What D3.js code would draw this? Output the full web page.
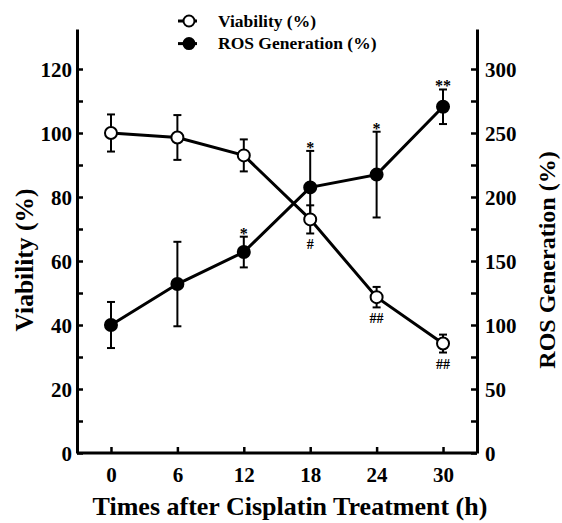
<!DOCTYPE html>
<html>
<head>
<meta charset="utf-8">
<script src="https://cdn.jsdelivr.net/npm/d3@7"></script>
<style>
  body { margin: 0; background: #fff; }
  svg { display: block; }
</style>
</head>
<body>
<svg id="chart" width="562" height="523"></svg>
<script>
// values
const times = [0, 6, 12, 18, 24, 30];
const viability = [100, 98.6, 93, 73, 48.7, 34.2];
const viabilityErr = [5.8, 7, 5, 4.4, 3.2, 2.8];
const ros = [100, 132, 157, 207.5, 217.5, 270.5];
const rosErr = [18, 33, 12, 28.5, 33.5, 13.5];
const rosMarks = ["", "", "*", "*", "*", "**"];
const viabilityMarks = ["", "", "", "#", "##", "##"];

const xTicks = [0, 6, 12, 18, 24, 30];
const leftTicks = [0, 20, 40, 60, 80, 100, 120];
const leftMinor = [10, 30, 50, 70, 90, 110];
const rightTicks = [0, 50, 100, 150, 200, 250, 300];
const rightMinor = [25, 75, 125, 175, 225, 275];

const FONT = "Liberation Serif";

const svg = d3.select("#chart");
const margin = { top: 29, right: 85, bottom: 70, left: 77 };
const width = 562 - margin.left - margin.right;
const height = 523 - margin.top - margin.bottom;

const g = svg.append("g")
    .attr("transform", "translate(" + margin.left + "," + margin.top + ")")
    .attr("font-family", FONT)
    .attr("font-weight", "bold");

const x = d3.scaleLinear().domain([-3.07, 33.07]).range([0, width]);
const y = d3.scaleLinear().domain([0, 132.5]).range([height, 0]);
const y2 = d3.scaleLinear().domain([0, 331.25]).range([height, 0]);

// axes, ticks pointing inward
function styleAxis(sel) {
    sel.attr("font-family", FONT).attr("font-size", 21).attr("font-weight", "bold");
    sel.select(".domain").attr("stroke", "#000").attr("stroke-width", 3);
    sel.selectAll(".tick line").attr("stroke", "#000").attr("stroke-width", 2.5);
    sel.selectAll(".tick text").attr("fill", "#000");
}

function minorTicks(s) {
    s.select(".domain").remove();
    s.selectAll("line").attr("stroke", "#000").attr("stroke-width", 2.5);
}

g.append("g")
    .call(d3.axisLeft(y).tickValues(leftMinor).tickSize(-6).tickFormat(""))
    .call(minorTicks);
g.append("g")
    .attr("transform", "translate(" + width + ",0)")
    .call(d3.axisRight(y2).tickValues(rightMinor).tickSize(-6).tickFormat(""))
    .call(minorTicks);

g.append("g")
    .attr("class", "axis axis--y")
    .call(d3.axisLeft(y).tickValues(leftTicks).tickSizeInner(-6).tickSizeOuter(0))
    .call(styleAxis)
    .call(s => s.selectAll(".tick text").attr("x", -5).attr("dy", "0.34em"));

g.append("g")
    .attr("class", "axis axis--y2")
    .attr("transform", "translate(" + width + ",0)")
    .call(d3.axisRight(y2).tickValues(rightTicks).tickSizeInner(-6).tickSizeOuter(0))
    .call(styleAxis)
    .call(s => s.selectAll(".tick text").attr("x", 8).attr("dy", "0.34em"));

g.append("g")
    .attr("class", "axis axis--x")
    .attr("transform", "translate(0," + height + ")")
    .call(d3.axisBottom(x).tickValues(xTicks).tickSizeInner(-6).tickSizeOuter(0))
    .call(styleAxis)
    .call(s => s.selectAll(".tick text").attr("y", 14));

// bottom domain goes full width between the two y axes
g.select(".axis--x .domain").attr("d", "M0,0H" + width);

// axis titles
svg.append("text")
    .attr("x", 290).attr("y", 515)
    .attr("text-anchor", "middle")
    .attr("font-family", FONT).attr("font-weight", "bold")
    .attr("font-size", 26)
    .text("Times after Cisplatin Treatment (h)");

svg.append("text")
    .attr("transform", "translate(33,260) rotate(-90)")
    .attr("text-anchor", "middle")
    .attr("font-family", FONT).attr("font-weight", "bold")
    .attr("font-size", 25.5)
    .text("Viability (%)");

svg.append("text")
    .attr("transform", "translate(555,260) rotate(-90)")
    .attr("text-anchor", "middle")
    .attr("font-family", FONT).attr("font-weight", "bold")
    .attr("font-size", 24)
    .text("ROS Generation (%)");

const rosData = times.map((t, i) => ({ t: t, v: ros[i], e: rosErr[i], m: rosMarks[i] }));
const viaData = times.map((t, i) => ({ t: t, v: viability[i], e: viabilityErr[i], m: viabilityMarks[i] }));

function drawSeries(data, scale, fill) {
    const s = g.append("g");
    s.append("path")
        .datum(data)
        .attr("fill", "none")
        .attr("stroke", "#000")
        .attr("stroke-width", 3)
        .attr("d", d3.line().x(d => x(d.t)).y(d => scale(d.v)));

    const eb = s.selectAll(".err").data(data).enter().append("g").attr("class", "err");
    eb.append("line")
        .attr("x1", d => x(d.t)).attr("x2", d => x(d.t))
        .attr("y1", d => scale(d.v - d.e)).attr("y2", d => scale(d.v + d.e))
        .attr("stroke", "#000").attr("stroke-width", 2);
    [-1, 1].forEach(k => {
        eb.append("line")
            .attr("x1", d => x(d.t) - 4).attr("x2", d => x(d.t) + 4)
            .attr("y1", d => scale(d.v + k * d.e)).attr("y2", d => scale(d.v + k * d.e))
            .attr("stroke", "#000").attr("stroke-width", 2);
    });

    s.selectAll(".pt").data(data).enter().append("circle")
        .attr("class", "pt")
        .attr("cx", d => x(d.t)).attr("cy", d => scale(d.v))
        .attr("r", 6)
        .attr("fill", fill)
        .attr("stroke", "#000").attr("stroke-width", 2);
}

drawSeries(rosData, y2, "#000");
drawSeries(viaData, y, "#fff");

// significance marks
g.selectAll(".star").data(rosData.filter(d => d.m)).enter().append("text")
    .attr("x", d => x(d.t)).attr("y", d => y2(d.v + d.e) + 2)
    .attr("text-anchor", "middle")
    .attr("font-size", 16)
    .text(d => d.m);

g.selectAll(".hash").data(viaData.filter(d => d.m)).enter().append("text")
    .attr("x", d => x(d.t)).attr("y", d => y(d.v - d.e) + 16)
    .attr("text-anchor", "middle")
    .attr("font-size", 14)
    .text(d => d.m);

// legend
const legendItems = [
    { label: "Viability (%)", fill: "#fff" },
    { label: "ROS Generation (%)", fill: "#000" }
];
const lg = svg.append("g").attr("transform", "translate(178,21)")
    .attr("font-family", FONT).attr("font-weight", "bold");
legendItems.forEach((it, i) => {
    const row = lg.append("g").attr("transform", "translate(0," + i * 22.6 + ")");
    row.append("line").attr("x1", 0).attr("x2", 19).attr("y1", 0).attr("y2", 0)
        .attr("stroke", "#000").attr("stroke-width", 3);
    row.append("circle").attr("cx", 11).attr("cy", 0).attr("r", 5.5)
        .attr("fill", it.fill).attr("stroke", "#000").attr("stroke-width", 2);
    row.append("text").attr("x", 40).attr("y", 0).attr("dy", "0.33em")
        .attr("font-size", 17.5)
        .text(it.label);
});
</script>
</body>
</html>
